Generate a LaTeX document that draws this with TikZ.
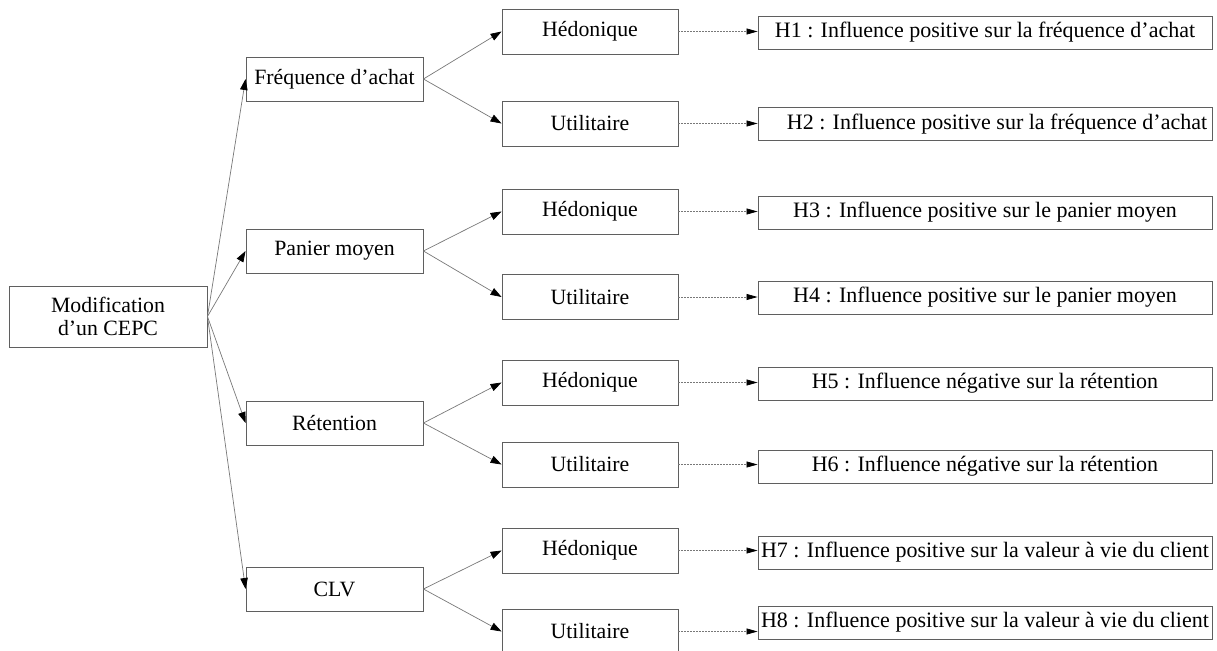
\documentclass[tikz,border=0pt]{standalone}
\usepackage{fontspec}
\setmainfont{Liberation Serif}
\usetikzlibrary{arrows.meta}
\definecolor{boxgray}{RGB}{95,95,95}
\definecolor{linegray}{RGB}{120,120,120}
\begin{document}
\begin{tikzpicture}[x=1pt,y=-1pt,
  box/.style={draw=boxgray, line width=0.9pt, inner sep=0pt, font=\fontsize{21.8}{23.5}\selectfont},
  lvl/.style={box, minimum width=177pt, minimum height=44pt},
  mid/.style={box, minimum width=176pt, minimum height=45pt},
  hyp/.style={box, minimum width=454pt, minimum height=33pt, font=\fontsize{22}{24}\selectfont},
  conn/.style={draw=linegray, line width=0.7pt, -{Triangle[length=11pt,width=7.5pt,color=black]}},
  dashconn/.style={draw=linegray, line width=0.7pt, dash pattern=on 2pt off 1pt, -{Triangle[length=11pt,width=6pt,color=black]}}
]
\clip (0,0) rectangle (1217,650);
\useasboundingbox (0,0) rectangle (1217,650);

\node[box, minimum width=198pt, minimum height=61pt, align=center] (mod) at (108,316.5) {Modification\\d'un CEPC};

\node[lvl] (f1) at (334.5,79) {Fréquence d'achat};
\node[lvl] (f2) at (334.5,251) {Panier moyen};
\node[lvl] (f3) at (334.5,423) {Rétention};
\node[lvl] (f4) at (334.5,589) {CLV};

\node[mid] (h1) at (590,31.5) {Hédonique};
\node[mid] (u1) at (590,123.5) {Utilitaire};
\node[mid] (h2) at (590,211.5) {Hédonique};
\node[mid] (u2) at (590,297) {Utilitaire};
\node[mid] (h3) at (590,382.5) {Hédonique};
\node[mid] (u3) at (590,464.5) {Utilitaire};
\node[mid] (h4) at (590,550.5) {Hédonique};
\node[mid] (u4) at (590,631.5) {Utilitaire};

\node[hyp] (H1) at (985,32.5) {H1 : Influence positive sur la fréquence d'achat};
\node[hyp] (H2) at (985,124) {\hspace*{24pt}H2 : Influence positive sur la fréquence d'achat};
\node[hyp] (H3) at (985,212.5) {H3 : Influence positive sur le panier moyen};
\node[hyp] (H4) at (985,297.5) {H4 : Influence positive sur le panier moyen};
\node[hyp] (H5) at (985,383.5) {H5 : Influence négative sur la rétention};
\node[hyp] (H6) at (985,466.5) {H6 : Influence négative sur la rétention};
\node[hyp] (H7) at (985,552.5) {H7 : Influence positive sur la valeur à vie du client};
\node[hyp] (H8) at (985,622.5) {H8 : Influence positive sur la valeur à vie du client};

\foreach \f in {f1,f2,f3,f4}{
  \draw[conn] (mod.east) -- (\f.west);
}
\foreach \f/\h/\u in {f1/h1/u1, f2/h2/u2, f3/h3/u3, f4/h4/u4}{
  \draw[conn] (\f.east) -- (\h.west);
  \draw[conn] (\f.east) -- (\u.west);
}
\foreach \m/\H in {h1/H1, u1/H2, h2/H3, u2/H4, h3/H5, u3/H6, h4/H7, u4/H8}{
  \draw[dashconn] (\m.east) -- (\m.east -| \H.west);
}
\end{tikzpicture}
\end{document}
